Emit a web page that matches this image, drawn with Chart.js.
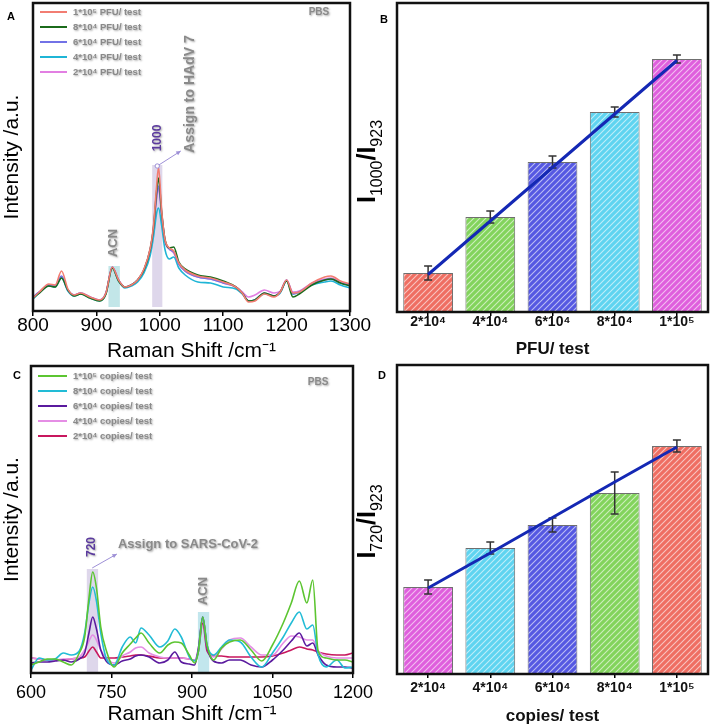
<!DOCTYPE html>
<html>
<head>
<meta charset="utf-8">
<script src="https://cdn.jsdelivr.net/npm/chart.js@4.4.1/dist/chart.umd.min.js"></script>
<style>
  html, body { margin: 0; padding: 0; background: #fff; }
  #wrap { position: relative; width: 712px; height: 727px; overflow: hidden; }
  canvas { position: absolute; }
</style>
</head>
<body>
<div id="wrap">
  <canvas id="cA" width="384" height="364" style="left:0;top:0"></canvas>
  <canvas id="cC" width="384" height="371" style="left:0;top:356px"></canvas>
  <canvas id="cB" width="356" height="364" style="left:356px;top:0"></canvas>
  <canvas id="cD" width="356" height="371" style="left:356px;top:356px"></canvas>
</div>
<script>
// ---- Panel A: Raman spectra, HAdV 7 (PFU/ test) ----
const ramanA = [800, 810, 825, 835, 845, 855, 865, 875, 890, 905, 915, 925, 935, 945, 955, 965, 975, 985, 990, 995,
  998, 1003, 1008, 1015, 1022, 1030, 1040, 1060, 1080, 1100, 1120, 1130, 1140, 1150, 1165, 1180, 1190, 1200, 1210, 1220,
  1240, 1260, 1270, 1285, 1300];
const aPfu1e5 = [13, 19, 27, 26, 40, 22, 16, 18, 14, 11, 18, 44, 31, 24, 26, 31, 42, 63, 85, 125,
  144, 100, 72, 63, 60, 48, 41, 35, 33, 29, 24, 18, 9, 10, 17, 14, 19, 31, 18, 19,
  28, 34, 35, 30, 27];
const aPfu8e4 = [13, 18, 25, 24, 33, 21, 15, 17, 13, 10, 17, 43, 30, 24, 26, 31, 41, 62, 83, 120,
  133, 98, 72, 63, 64, 49, 42, 36, 34, 30, 24, 18, 10, 11, 18, 15, 19, 30, 14, 17,
  26, 31, 32, 28, 25];
const aPfu6e4 = [14, 19, 26, 25, 35, 21, 16, 18, 14, 11, 18, 44, 31, 24, 26, 31, 41, 62, 82, 115,
  125, 97, 71, 62, 59, 47, 40, 34, 32, 28, 24, 18, 10, 11, 18, 15, 19, 31, 17, 19,
  27, 31, 32, 28, 26];
const aPfu4e4 = [12, 18, 25, 24, 33, 20, 15, 17, 13, 10, 17, 43, 30, 23, 25, 29, 38, 56, 74, 98,
  103, 85, 62, 52, 54, 43, 36, 29, 28, 24, 22, 17, 10, 11, 17, 15, 18, 30, 17, 19,
  26, 29, 30, 26, 23];
const aPfu2e4 = [14, 19, 26, 25, 34, 21, 16, 18, 14, 11, 18, 44, 31, 24, 26, 31, 41, 61, 81, 112,
  123, 95, 70, 62, 58, 47, 40, 34, 32, 28, 24, 19, 14, 16, 21, 18, 20, 31, 19, 20,
  28, 32, 33, 29, 26];

// ---- Panel C: Raman spectra, SARS-CoV-2 (copies/ test) ----
const ramanC = [600, 615, 630, 645, 660, 675, 690, 700, 708, 715, 722, 730, 740, 755, 770, 785, 795, 805, 820, 840,
  855, 868, 880, 895, 905, 912, 920, 928, 940, 955, 970, 990, 1010, 1030, 1050, 1070, 1085, 1100, 1114, 1125,
  1135, 1150, 1170, 1185, 1200];
const cCop1e5 = [8, 11, 14, 14, 11, 8, 20, 36, 75, 101, 85, 46, 23, 6, 20, 29, 35, 40, 30, 20,
  28, 31, 30, 18, 10, 22, 56, 28, 13, 25, 31, 33, 23, 12, 28, 50, 70, 92, 70, 93,
  22, 15, 13, 13, 11];
const cCop8e4 = [3, 15, 13, 14, 20, 18, 22, 40, 70, 86, 72, 40, 15, 8, 26, 36, 30, 45, 38, 26,
  32, 44, 36, 16, 12, 22, 56, 28, 18, 26, 33, 31, 16, 6, 20, 36, 50, 61, 44, 48,
  18, 6, 13, 5, 6];
const cCop6e4 = [10, 11, 11, 12, 13, 11, 14, 20, 40, 56, 44, 23, 12, 8, 12, 14, 17, 18, 16, 10,
  13, 21, 11, 9, 8, 25, 56, 26, 12, 10, 13, 13, 8, 6, 13, 23, 32, 40, 27, 30,
  18, 8, 6, 6, 5];
const cCop4e4 = [15, 14, 13, 13, 14, 14, 16, 23, 32, 38, 33, 23, 15, 10, 17, 21, 25, 26, 20, 16,
  15, 15, 15, 14, 13, 25, 56, 26, 16, 24, 33, 35, 26, 18, 18, 30, 37, 36, 33, 33,
  22, 17, 15, 15, 15];
const cCop2e4 = [15, 14, 13, 13, 13, 14, 15, 16, 22, 26, 21, 15, 15, 15, 16, 17, 18, 18, 17, 15,
  15, 15, 15, 14, 13, 22, 50, 22, 17, 17, 16, 16, 16, 16, 17, 20, 23, 26, 24, 23,
  21, 19, 18, 18, 20];

// ---- Panels B and D: intensity ratios ----
const pfuLabels = ['2*10⁴', '4*10⁴', '6*10⁴', '8*10⁴', '1*10⁵'];
const ratioB = [0.39, 0.95, 1.50, 2.00, 2.53];
const errB = [0.07, 0.06, 0.06, 0.05, 0.04];
const fitB = [0.375, 0.91, 1.445, 1.98, 2.515];

const copiesLabels = ['2*10⁴', '4*10⁴', '6*10⁴', '8*10⁴', '1*10⁵'];
const ratioD = [0.87, 1.26, 1.49, 1.81, 2.28];
const errD = [0.07, 0.06, 0.07, 0.21, 0.06];
const fitD = [0.86, 1.21, 1.565, 1.92, 2.27];

const FONT = 'Arial, "Liberation Sans", sans-serif';
const GREY = '#8a8a8a';

// hatched fill for the bars
function hatch(canvasId, color) {
  const c = document.createElement('canvas');
  c.width = 6; c.height = 6;
  const g = c.getContext('2d');
  g.fillStyle = color; g.fillRect(0, 0, 6, 6);
  g.strokeStyle = 'rgba(255,255,255,0.6)'; g.lineWidth = 1.1;
  g.beginPath();
  g.moveTo(0, 6); g.lineTo(6, 0);
  g.moveTo(-3, 3); g.lineTo(3, -3);
  g.moveTo(3, 9); g.lineTo(9, 3);
  g.stroke();
  return document.getElementById(canvasId).getContext('2d').createPattern(c, 'repeat');
}

function setShadow(ctx, on) {
  ctx.shadowColor = on ? 'rgba(0,0,0,0.35)' : 'transparent';
  ctx.shadowBlur = on ? 2 : 0;
  ctx.shadowOffsetX = on ? 1 : 0;
  ctx.shadowOffsetY = on ? 1 : 0;
}

// bands, notes, arrows, legend, frame, panel letter
const notes = {
  id: 'notes',
  beforeDatasetsDraw(chart, args, o) {
    const { ctx, scales: { x, y } } = chart;
    (o.bands || []).forEach(b => {
      const x0 = x.getPixelForValue(b.x0), x1 = x.getPixelForValue(b.x1);
      const y0 = y.getPixelForValue(b.y0), y1 = y.getPixelForValue(b.y1);
      ctx.save();
      ctx.fillStyle = b.color;
      ctx.fillRect(x0, y1, x1 - x0, y0 - y1);
      ctx.restore();
    });
  },
  afterDraw(chart, args, o) {
    const { ctx, chartArea: a } = chart;
    const x = chart.scales.x, y = chart.scales.y;
    // frame
    ctx.save();
    ctx.strokeStyle = '#111'; ctx.lineWidth = 2.5;
    ctx.strokeRect(a.left, a.top, a.right - a.left, a.bottom - a.top);
    ctx.restore();

    (o.arrows || []).forEach(ar => {
      const x0 = x.getPixelForValue(ar.x0), y0 = y.getPixelForValue(ar.y0);
      const x1 = x.getPixelForValue(ar.x1), y1 = y.getPixelForValue(ar.y1);
      const ang = Math.atan2(y1 - y0, x1 - x0);
      ctx.save();
      ctx.strokeStyle = ar.color; ctx.fillStyle = ar.color; ctx.lineWidth = 1;
      ctx.beginPath(); ctx.moveTo(x0, y0); ctx.lineTo(x1, y1); ctx.stroke();
      ctx.beginPath();
      ctx.moveTo(x1, y1);
      ctx.lineTo(x1 - 5 * Math.cos(ang - 0.45), y1 - 5 * Math.sin(ang - 0.45));
      ctx.lineTo(x1 - 5 * Math.cos(ang + 0.45), y1 - 5 * Math.sin(ang + 0.45));
      ctx.closePath(); ctx.fill();
      if (ar.dot) {
        ctx.fillStyle = '#fff';
        ctx.beginPath(); ctx.arc(x0, y0, 2.2, 0, Math.PI * 2); ctx.fill(); ctx.stroke();
      }
      ctx.restore();
    });

    (o.texts || []).forEach(t => {
      const px = t.px ? t.x : x.getPixelForValue(t.x);
      const py = t.px ? t.y : y.getPixelForValue(t.y);
      ctx.save();
      ctx.translate(px, py);
      if (t.rot) ctx.rotate(t.rot);
      ctx.font = t.font;
      ctx.fillStyle = t.color;
      ctx.textAlign = t.align || 'center';
      ctx.textBaseline = 'middle';
      setShadow(ctx, t.shadow);
      ctx.fillText(t.text, 0, 0);
      ctx.restore();
    });

    if (o.legend) {
      const L = o.legend;
      chart.data.datasets.forEach((ds, i) => {
        const ly = a.top + L.dy + i * L.step;
        ctx.save();
        ctx.strokeStyle = ds.borderColor; ctx.lineWidth = 2;
        ctx.beginPath(); ctx.moveTo(a.left + L.dx, ly); ctx.lineTo(a.left + L.dx + L.len, ly); ctx.stroke();
        ctx.font = 'bold 9.5px ' + FONT;
        ctx.fillStyle = GREY; ctx.textAlign = 'left'; ctx.textBaseline = 'middle';
        setShadow(ctx, true);
        ctx.fillText(ds.label, a.left + L.dx + L.len + 6, ly);
        ctx.restore();
      });
    }

    if (o.ratio) {
      // y title such as I1000/I923, big bold I with subscripts
      const r = o.ratio;
      const big = 'bold 25px ' + FONT, small = '16px ' + FONT;
      const parts = [['I', big, 0], [r.a, small, 7], ['/I', big, 0], [r.b, small, 7]];
      ctx.save();
      let w = 0;
      parts.forEach(p => { ctx.font = p[1]; w += ctx.measureText(p[0]).width; });
      ctx.translate(r.x, (a.top + a.bottom) / 2 + r.dy);
      ctx.rotate(-Math.PI / 2);
      ctx.fillStyle = '#000'; ctx.textBaseline = 'alphabetic'; ctx.textAlign = 'left';
      let cx = -w / 2;
      parts.forEach(p => {
        ctx.font = p[1];
        ctx.fillText(p[0], cx, p[2]);
        cx += ctx.measureText(p[0]).width;
      });
      ctx.restore();
    }
  }
};

// error bars drawn right after the bar dataset, under the fit line
const errorBars = {
  id: 'errorBars',
  afterDatasetDraw(chart, args) {
    const ds = chart.data.datasets[args.index];
    if (!ds.errors) return;
    const { ctx } = chart;
    const y = chart.scales.y;
    args.meta.data.forEach((bar, i) => {
      const top = y.getPixelForValue(ds.data[i] + ds.errors[i]);
      const bot = y.getPixelForValue(ds.data[i] - ds.errors[i]);
      ctx.save();
      ctx.strokeStyle = '#333'; ctx.lineWidth = 1.5;
      ctx.beginPath();
      ctx.moveTo(bar.x, top); ctx.lineTo(bar.x, bot);
      ctx.moveTo(bar.x - 4, top); ctx.lineTo(bar.x + 4, top);
      ctx.moveTo(bar.x - 4, bot); ctx.lineTo(bar.x + 4, bot);
      ctx.stroke();
      ctx.restore();
    });
  }
};

function spectrum(label, xs, ys, color) {
  return {
    label,
    data: xs.map((v, i) => ({ x: v, y: ys[i] })),
    borderColor: color,
    borderWidth: 1.6,
    pointRadius: 0,
    cubicInterpolationMode: 'monotone',
    fill: false
  };
}

function spectraChart(id, datasets, xr, yMax, sizes, tickFont, notesOpts) {
  return new Chart(document.getElementById(id), {
    type: 'line',
    data: { datasets },
    options: {
      responsive: false,
      animation: false,
      devicePixelRatio: 1,
      layout: { padding: { top: sizes.top, right: sizes.right, left: 0, bottom: 0 } },
      plugins: { legend: { display: false }, tooltip: { enabled: false }, notes: notesOpts },
      scales: {
        x: {
          type: 'linear', min: xr.min, max: xr.max,
          ticks: {
            stepSize: xr.step, color: '#000', font: { family: FONT, size: tickFont },
            padding: sizes.tickPad, maxRotation: 0, callback: v => String(v)
          },
          grid: { display: true, drawOnChartArea: false, drawTicks: true, tickLength: 5, color: '#000', lineWidth: 1.5 },
          border: { display: false },
          title: { display: true, text: 'Raman Shift /cm⁻¹', color: '#000', font: { family: FONT, size: 21 }, padding: 0 },
          afterFit: s => { s.height = sizes.xh; }
        },
        y: {
          min: 0, max: yMax,
          ticks: { display: false },
          grid: { display: false },
          border: { display: false },
          title: { display: true, text: 'Intensity /a.u.', color: '#000', font: { family: FONT, size: 21 }, padding: 0 },
          afterFit: s => { s.width = sizes.yw; }
        }
      }
    },
    plugins: [notes]
  });
}

function ratioChart(id, labels, values, errors, fit, colors, title, sizes, ratio, letter) {
  return new Chart(document.getElementById(id), {
    data: {
      labels,
      datasets: [
        {
          type: 'line', data: fit, borderColor: '#1428b4', borderWidth: 3,
          pointRadius: 0, order: 0
        },
        {
          type: 'bar', data: values, errors,
          backgroundColor: colors.map(c => hatch(id, c)),
          borderColor: '#6f6f6f', borderWidth: 1,
          barPercentage: 0.8, categoryPercentage: 1, order: 1
        }
      ]
    },
    options: {
      responsive: false,
      animation: false,
      devicePixelRatio: 1,
      layout: { padding: { top: sizes.top, right: sizes.right, left: 0, bottom: 0 } },
      plugins: {
        legend: { display: false }, tooltip: { enabled: false },
        notes: { ratio, texts: [letter] }
      },
      scales: {
        x: {
          type: 'category', offset: true,
          ticks: { color: '#111', font: { family: FONT, size: 14, weight: 'bold' }, padding: sizes.tickPad },
          grid: { display: true, offset: false, drawOnChartArea: false, drawTicks: true, tickLength: 4, color: '#000', lineWidth: 1.5 },
          border: { display: false },
          title: { display: true, text: title, color: '#111', font: { family: FONT, size: 17, weight: 'bold' }, padding: { top: 0, bottom: sizes.titlePad } },
          afterFit: s => { s.height = sizes.xh; }
        },
        y: {
          min: 0, max: 3.09,
          ticks: { display: false },
          grid: { display: false },
          border: { display: false },
          afterFit: s => { s.width = sizes.yw; }
        }
      }
    },
    plugins: [notes, errorBars]
  });
}

const noteFont = s => 'bold ' + s + 'px ' + FONT;

spectraChart('cA', [
  spectrum('1*10⁵ PFU/ test', ramanA, aPfu1e5, '#f27d72'),
  spectrum('8*10⁴ PFU/ test', ramanA, aPfu8e4, '#1b6b1b'),
  spectrum('6*10⁴ PFU/ test', ramanA, aPfu6e4, '#7272e6'),
  spectrum('4*10⁴ PFU/ test', ramanA, aPfu4e4, '#1fb5d6'),
  spectrum('2*10⁴ PFU/ test', ramanA, aPfu2e4, '#e27fe2')
], { min: 800, max: 1300, step: 100 }, 308,
  { top: 3, right: 34, xh: 53, yw: 33, tickPad: -2 }, 19, {
  bands: [
    { x0: 919, x1: 937, y0: 4, y1: 45, color: 'rgba(120,200,205,0.45)' },
    { x0: 988, x1: 1004, y0: 4, y1: 146, color: 'rgba(190,175,215,0.5)' }
  ],
  arrows: [{ x0: 996, y0: 145, x1: 1033, y1: 160, color: '#9d8fd6', dot: true }],
  texts: [
    { text: 'ACN', x: 927, y: 68, rot: -Math.PI / 2, font: noteFont(13), color: GREY, shadow: true },
    { text: '1000', x: 996, y: 173, rot: -Math.PI / 2, font: noteFont(12), color: '#5b3a9e', shadow: true },
    { text: 'Assign to HAdV 7', x: 1048, y: 217, rot: -Math.PI / 2, font: noteFont(14), color: GREY, shadow: true },
    { text: 'PBS', x: 1251, y: 299, font: noteFont(10), color: GREY, shadow: true },
    { text: 'A', x: 11, y: 17, px: true, font: noteFont(11), color: '#000' }
  ],
  legend: { dx: 7, dy: 9, step: 15, len: 27 }
});

spectraChart('cC', [
  spectrum('1*10⁵ copies/ test', ramanC, cCop1e5, '#5cc531'),
  spectrum('8*10⁴ copies/ test', ramanC, cCop8e4, '#22bcd6'),
  spectrum('6*10⁴ copies/ test', ramanC, cCop6e4, '#5a1a9e'),
  spectrum('4*10⁴ copies/ test', ramanC, cCop4e4, '#e58ee5'),
  spectrum('2*10⁴ copies/ test', ramanC, cCop2e4, '#c8175e')
], { min: 600, max: 1200, step: 150 }, 307,
  { top: 10, right: 31, xh: 54, yw: 31, tickPad: 4 }, 18, {
  bands: [
    { x0: 704, x1: 725, y0: 1, y1: 104, color: 'rgba(190,175,215,0.5)' },
    { x0: 911, x1: 932, y0: 1, y1: 61, color: 'rgba(120,200,215,0.45)' }
  ],
  arrows: [{ x0: 714, y0: 105, x1: 760, y1: 119, color: '#9d8fd6' }],
  texts: [
    { text: '720', x: 714, y: 126, rot: -Math.PI / 2, font: noteFont(12), color: '#5b3a9e', shadow: true },
    { text: 'Assign to SARS-CoV-2', x: 762, y: 129, align: 'left', font: noteFont(13), color: GREY, shadow: true },
    { text: 'ACN', x: 920.5, y: 82, rot: -Math.PI / 2, font: noteFont(13), color: GREY, shadow: true },
    { text: 'PBS', x: 1135, y: 291, font: noteFont(10), color: GREY, shadow: true },
    { text: 'C', x: 17, y: 20, px: true, font: noteFont(11), color: '#000' }
  ],
  legend: { dx: 7, dy: 10, step: 15, len: 29 }
});

ratioChart('cB', pfuLabels, ratioB, errB, fitB,
  ['#ef6e62', '#82d45c', '#5558e2', '#5fd4f0', '#df5fdd'], 'PFU/ test',
  { top: 3, right: 4, xh: 52, yw: 41, tickPad: -2, titlePad: 4 },
  { a: '1000', b: '923', x: 19, dy: 4 },
  { text: 'B', x: 28, y: 20, px: true, font: noteFont(11), color: '#000' });

ratioChart('cD', copiesLabels, ratioD, errD, fitD,
  ['#df5fdd', '#5fd4f0', '#5558e2', '#82d45c', '#ef6e62'], 'copies/ test',
  { top: 9, right: 4, xh: 53, yw: 41, tickPad: 2, titlePad: 0 },
  { a: '720', b: '923', x: 19, dy: 2 },
  { text: 'D', x: 26, y: 20, px: true, font: noteFont(11), color: '#000' });
</script>
</body>
</html>
